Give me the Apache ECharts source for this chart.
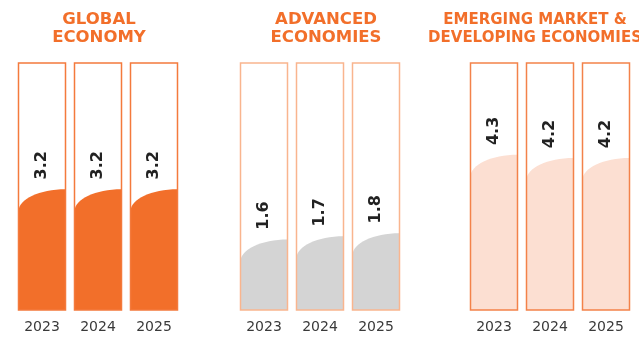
<!DOCTYPE html>
<html>
<head>
<meta charset="utf-8">
<script src="https://cdn.jsdelivr.net/npm/echarts@6/dist/echarts.min.js"></script>
<style>
  html, body { margin: 0; padding: 0; background: #fff; }
  #chart { width: 639px; height: 339px; }
</style>
</head>
<body>
<div id="chart"></div>
<script>
const years = ['2023', '2024', '2025']
const groupTitles = ['GLOBAL\nECONOMY', 'ADVANCED\nECONOMIES', 'EMERGING MARKET &\nDEVELOPING ECONOMIES']
const globalGrowth = [3.2, 3.2, 3.2]
const advancedGrowth = [1.6, 1.7, 1.8]
const emergingGrowth = [4.3, 4.2, 4.2]

const groups = [
  { title: groupTitles[0], data: globalGrowth, fill: '#F26F2A', stroke: '#F47A3C', left: 14, titleX: 94, titleSize: 16.5 },
  { title: groupTitles[1], data: advancedGrowth, fill: '#D4D4D4', stroke: '#F9B58E', left: 236, titleX: 321, titleSize: 16.5 },
  { title: groupTitles[2], data: emergingGrowth, fill: '#FCDFD2', stroke: '#F3824A', left: 466, titleX: 530, titleSize: 15 }
]

const yMin = -0.65
const yMax = 7.23
const barW = 47
const K = 0.5523

function renderTank (color, stroke) {
  return function (params, api) {
    const v = api.value(1)
    const bottom = api.coord([api.value(0), yMin])
    const top = api.coord([api.value(0), yMax])
    const lvl = api.coord([api.value(0), v])
    const x0 = bottom[0] - barW / 2
    const x1 = bottom[0] + barW / 2
    const yb = bottom[1]
    const yt = top[1]
    const yl = lvl[1]
    const d = 22
    return {
      type: 'group',
      children: [
        {
          type: 'path',
          shape: {
            pathData: 'M' + x0 + ' ' + yb +
              ' L' + x0 + ' ' + (yl + d) +
              ' C' + x0 + ' ' + (yl + d - K * d) + ' ' + (x1 - K * barW) + ' ' + yl + ' ' + x1 + ' ' + yl +
              ' L' + x1 + ' ' + yb + ' Z'
          },
          style: { fill: color }
        },
        {
          type: 'rect',
          shape: { x: x0, y: yt, width: barW, height: yb - yt },
          style: { fill: 'none', stroke: stroke, lineWidth: 1.5 }
        },
        {
          type: 'text',
          x: bottom[0],
          y: yl - 24,
          rotation: Math.PI / 2,
          style: {
            text: v.toFixed(1),
            fontFamily: 'DejaVu Sans, sans-serif',
            fontWeight: 'bold',
            fontSize: 16,
            fill: '#222',
            align: 'center',
            verticalAlign: 'middle'
          }
        }
      ]
    }
  }
}

const chart = echarts.init(document.getElementById('chart'), null, { renderer: 'canvas' })

const option = {
  animation: false,
  title: groups.map(g => ({
    text: g.title,
    left: g.titleX,
    top: 6,
    textAlign: 'center',
    textStyle: {
      color: '#F26F2A',
      fontFamily: 'DejaVu Sans, sans-serif',
      fontWeight: 'bold',
      fontSize: g.titleSize,
      lineHeight: 18
    }
  })),
  grid: groups.map(g => ({ left: g.left, width: 168, top: 63, bottom: 29 })),
  xAxis: groups.map((g, i) => ({
    type: 'category',
    gridIndex: i,
    data: years,
    axisLine: { show: false },
    axisTick: { show: false },
    axisLabel: {
      color: '#3a3a3a',
      fontFamily: 'DejaVu Sans, sans-serif',
      fontSize: 14,
      margin: 10
    }
  })),
  yAxis: groups.map((g, i) => ({
    type: 'value',
    gridIndex: i,
    min: yMin,
    max: yMax,
    show: false
  })),
  series: groups.map((g, i) => ({
    type: 'custom',
    xAxisIndex: i,
    yAxisIndex: i,
    data: g.data.map((v, j) => [j, v]),
    renderItem: renderTank(g.fill, g.stroke)
  }))
}

chart.setOption(option)
</script>
</body>
</html>
